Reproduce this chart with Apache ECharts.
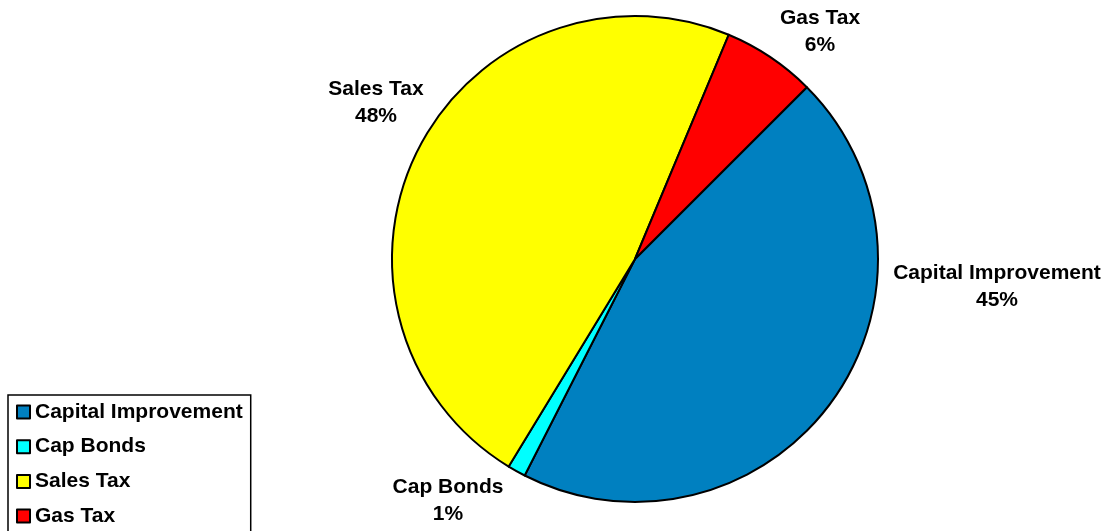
<!DOCTYPE html>
<html>
<head>
<meta charset="utf-8">
<script src="https://cdn.jsdelivr.net/npm/echarts@6/dist/echarts.min.js"></script>
<style>
html,body{margin:0;padding:0;background:#fff;}
#chart{width:1110px;height:531px;}
</style>
</head>
<body>
<div id="chart"></div>
<script>
var categories = ['Capital Improvement', 'Cap Bonds', 'Sales Tax', 'Gas Tax'];
var values = [45.0, 1.2, 47.6, 6.2];
var colors = ['#0080C0', '#00FFFF', '#FFFF00', '#FF0000'];

// label anchor points (layout only)
var labelPos = [[997, 287], [448, 501], [376, 103], [820, 32]];

var chart = echarts.init(document.getElementById('chart'));
var option = {
  animation: false,
  backgroundColor: '#ffffff',
  legend: {
    orient: 'vertical',
    left: 8,
    top: 395,
    height: 160,
    padding: [6, 8, 30, 8],
    borderColor: '#000',
    borderWidth: 1.5,
    itemWidth: 13,
    itemHeight: 13,
    itemGap: 12.7,
    icon: 'rect',
    selectedMode: false,
    textStyle: {
      fontFamily: 'Liberation Sans, Arial, sans-serif',
      fontWeight: 'bold',
      fontSize: 21,
      color: '#000',
      lineHeight: 22
    },
    itemStyle: { borderColor: '#000', borderWidth: 2 },
    data: categories
  },
  series: [{
    type: 'pie',
    center: [635, 259],
    radius: [0, 243],
    startAngle: 45,
    clockwise: true,
    avoidLabelOverlap: false,
    itemStyle: { borderColor: '#000', borderWidth: 2 },
    emphasis: { disabled: true },
    label: {
      show: true,
      position: 'outside',
      formatter: function (p) { return p.name + '\n' + Math.round(p.percent) + '%'; },
      fontFamily: 'Liberation Sans, Arial, sans-serif',
      fontWeight: 'bold',
      fontSize: 21,
      color: '#000',
      lineHeight: 27,
      align: 'center'
    },
    labelLine: { show: false },
    labelLayout: function (params) {
      var p = labelPos[params.dataIndex];
      return { x: p[0], y: p[1], align: 'center', verticalAlign: 'middle' };
    },
    data: categories.map(function (c, i) {
      return { name: c, value: values[i], itemStyle: { color: colors[i] } };
    })
  }]
};
chart.setOption(option);
</script>
</body>
</html>
